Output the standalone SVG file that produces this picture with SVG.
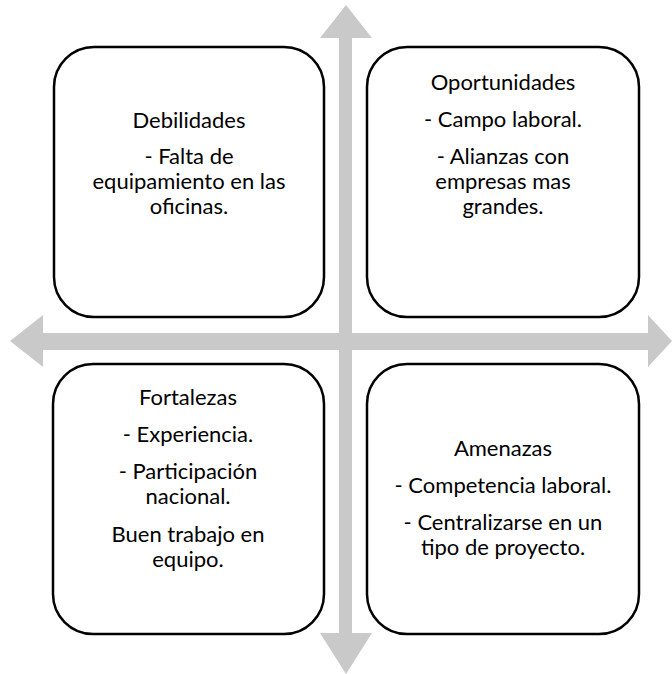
<svg xmlns="http://www.w3.org/2000/svg" width="672" height="674" viewBox="0 0 672 674">
<style>
.box{fill:#fff;stroke:#000;stroke-width:2.5}
.t{font-family:Lato,"Liberation Sans",sans-serif;font-size:22px;fill:#000;text-anchor:middle}
.arr{fill:#c9c9c9}
</style>
<rect width="672" height="674" fill="#fff"/>
<g id="connectors">
<polygon class="arr" points="346,5 372,38 352,38 352,633 372,633 346,674 320,633 339,633 339,38 320,38"/>
<polygon class="arr" points="10,341 43,315 43,333 648,333 648,315 672,341 648,367 648,350 43,350 43,367"/>
</g>
<g id="debilidades">
<rect class="box" x="54" y="47" width="270" height="270" rx="40"/>
<text class="t" x="189" y="128">Debilidades</text>
<text class="t" x="189" y="164">- Falta de</text>
<text class="t" x="189" y="189">equipamiento en las</text>
<text class="t" x="189" y="214">oficinas.</text>
</g>
<g id="oportunidades">
<rect class="box" x="367" y="47" width="272" height="270" rx="40"/>
<text class="t" x="503" y="90">Oportunidades</text>
<text class="t" x="503" y="127">- Campo laboral.</text>
<text class="t" x="503" y="164">- Alianzas con</text>
<text class="t" x="503" y="189">empresas mas</text>
<text class="t" x="503" y="214">grandes.</text>
</g>
<g id="fortalezas">
<rect class="box" x="53" y="364" width="271" height="270" rx="40"/>
<text class="t" x="188" y="405">Fortalezas</text>
<text class="t" x="188" y="442">- Experiencia.</text>
<text class="t" x="188" y="479">- Participación</text>
<text class="t" x="188" y="504">nacional.</text>
<text class="t" x="188" y="542">Buen trabajo en</text>
<text class="t" x="188" y="567">equipo.</text>
</g>
<g id="amenazas">
<rect class="box" x="367" y="364" width="272" height="270" rx="40"/>
<text class="t" x="503" y="456">Amenazas</text>
<text class="t" x="503" y="493">- Competencia laboral.</text>
<text class="t" x="503" y="530">- Centralizarse en un</text>
<text class="t" x="503" y="555">tipo de proyecto.</text>
</g>
</svg>
